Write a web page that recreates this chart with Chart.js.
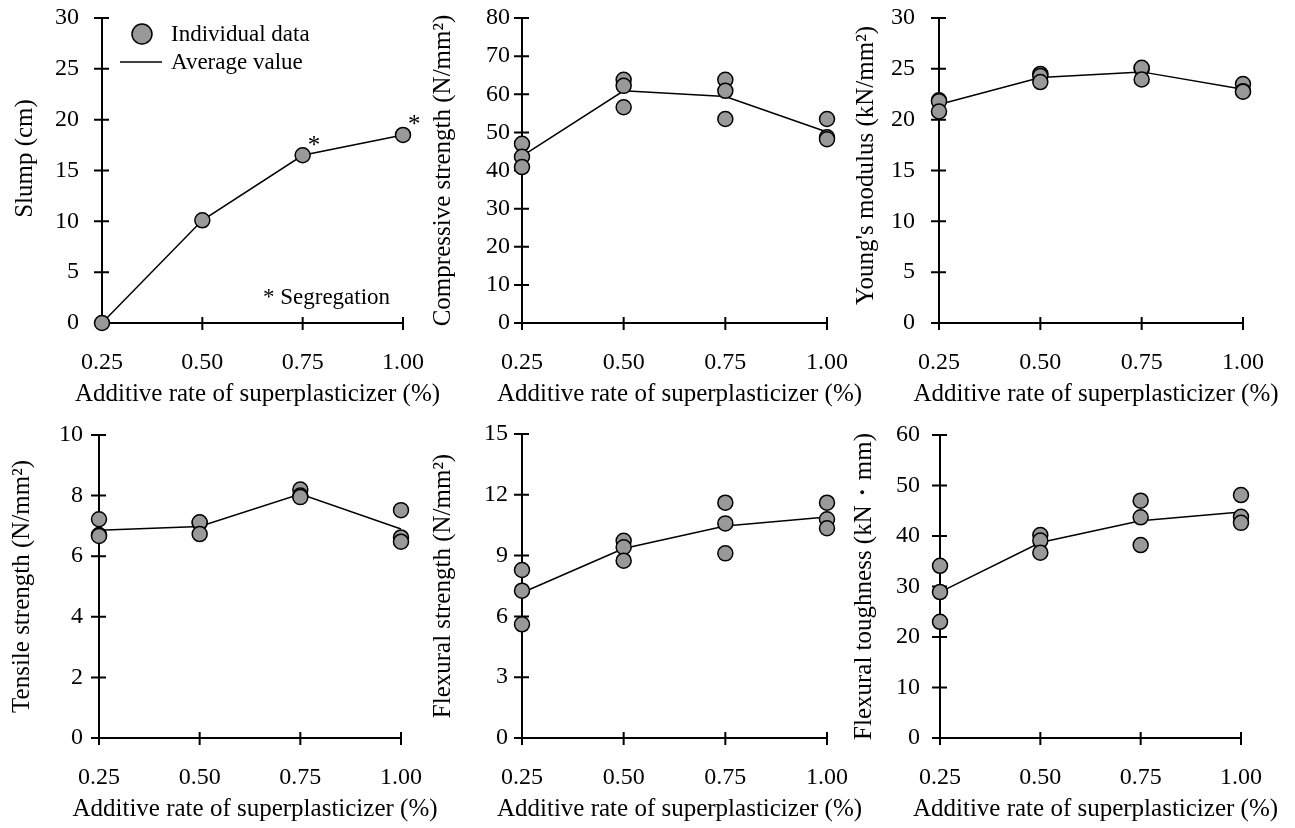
<!DOCTYPE html>
<html>
<head>
<meta charset="utf-8">
<title>Additive rate of superplasticizer</title>
<script src="https://cdn.jsdelivr.net/npm/chart.js@4.4.1/dist/chart.umd.min.js"></script>
<style>
  body { margin: 0; background: #fff; }
  #lienzo { position: relative; width: 1295px; height: 828px; overflow: hidden; background: #fff; }
  #lienzo canvas { position: absolute; }
</style>
</head>
<body>
<div id="lienzo"></div>
<script>
// Eje X comun: additive rate of superplasticizer (%)
const tasas = [0.25, 0.50, 0.75, 1.00];
const xTicks = [0.25, 0.50, 0.75, 1.00];
const tituloX = 'Additive rate of superplasticizer (%)';

// Slump (cm)
const slumpIndividual = [[0], [10.1], [16.5], [18.5]];
const slumpPromedio = [0, 10.1, 16.5, 18.5];
const slumpTicks = [0, 5, 10, 15, 20, 25, 30];
const segregacionX = [0.75, 1.00]; // puntos marcados con *

// Compressive strength (N/mm2)
const compIndividual = [[47.0, 43.6, 40.9], [63.8, 62.2, 56.6], [63.8, 60.9, 53.5], [53.5, 48.7, 48.2]];
const compPromedio = [43.8, 60.9, 59.4, 50.1];
const compTicks = [0, 10, 20, 30, 40, 50, 60, 70, 80];

// Young's modulus (kN/mm2)
const youngIndividual = [[21.9, 21.8, 20.8], [24.5, 24.3, 23.7], [25.0, 25.1, 23.95], [23.5, 22.8, 22.75]];
const youngPromedio = [21.5, 24.15, 24.7, 23.0];
const youngTicks = [0, 5, 10, 15, 20, 25, 30];

// Tensile strength (N/mm2)
const tensileIndividual = [[7.22, 6.7, 6.67], [7.1, 7.12, 6.73], [8.2, 8.0, 7.95], [7.52, 6.62, 6.48]];
const tensilePromedio = [6.86, 6.98, 8.05, 6.9];
const tensileTicks = [0, 2, 4, 6, 8, 10];

// Flexural strength (N/mm2)
const flexIndividual = [[8.29, 7.27, 5.61], [9.73, 9.41, 8.75], [11.61, 10.59, 9.11], [11.61, 10.79, 10.35]];
const flexPromedio = [7.17, 9.35, 10.46, 10.9];
const flexTicks = [0, 3, 6, 9, 12, 15];

// Flexural toughness (kN・mm)
const toughIndividual = [[34.1, 28.9, 23.0], [40.2, 39.1, 36.7], [47.0, 43.7, 38.2], [48.1, 43.8, 42.6]];
const toughPromedio = [28.9, 38.7, 43.0, 44.75];
const toughTicks = [0, 10, 20, 30, 40, 50, 60];

// Posicion de cada area de grafico (px) y separaciones de etiquetas
const posiciones = [
  { L: 102, T: 18,  R: 403,  B: 323, padTicks: 23, sepTitulo: 77, despTitulo: -12 },
  { L: 522, T: 18,  R: 827,  B: 323, padTicks: 12, sepTitulo: 79, despTitulo: 0 },
  { L: 939, T: 18,  R: 1243, B: 323, padTicks: 24, sepTitulo: 73, despTitulo: -5 },
  { L: 99,  T: 435, R: 401,  B: 738, padTicks: 16, sepTitulo: 77, despTitulo: 0 },
  { L: 522, T: 434, R: 827,  B: 738, padTicks: 14, sepTitulo: 79, despTitulo: 0 },
  { L: 940, T: 435, R: 1241, B: 738, padTicks: 20, sepTitulo: 76, despTitulo: 0 }
];

const EJE_Y = 100;      // ancho reservado para el eje Y
const EJE_X = 90;       // alto reservado para el eje X
const MARGEN_SUP = 20;
const MARGEN_DER = 45;
const GRIS = '#999999';
const FUENTE_TICKS = 24;
const FUENTE_TITULO = 25;
const FUENTE_NOTAS = 23;
const SERIF = '"Liberation Serif", "Times New Roman", serif';

Chart.defaults.font.family = SERIF;
Chart.defaults.color = '#000';

// Ejes con marcas que cruzan la linea (dibujados debajo de los puntos)
const marcasEjes = {
  id: 'marcasEjes',
  beforeDatasetsDraw(chart) {
    const { ctx, scales: { x, y } } = chart;
    const x0 = x.getPixelForValue(x.min);
    const x1 = x.getPixelForValue(x.max);
    const y0 = y.getPixelForValue(0);
    const y1 = y.getPixelForValue(y.max);
    ctx.save();
    ctx.strokeStyle = '#000';
    ctx.lineWidth = 2;
    ctx.beginPath();
    ctx.moveTo(x0, y1);
    ctx.lineTo(x0, y0);
    ctx.moveTo(x0, y0);
    ctx.lineTo(x1, y0);
    y.ticks.forEach(t => {
      const py = y.getPixelForValue(t.value);
      ctx.moveTo(x0 - 8, py);
      ctx.lineTo(x0 + 7, py);
    });
    x.ticks.forEach(t => {
      const px = x.getPixelForValue(t.value);
      ctx.moveTo(px, y0 - 6);
      ctx.lineTo(px, y0 + 7);
    });
    ctx.stroke();
    ctx.restore();
  }
};

// Titulos de los ejes (sin el maxWidth de Chart.js, que los comprime)
function crearTitulos(textoY, pos) {
  return {
    id: 'titulosEjes',
    afterDraw(chart) {
      const { ctx, chartArea: a } = chart;
      ctx.save();
      ctx.font = FUENTE_TITULO + 'px ' + SERIF;
      ctx.fillStyle = '#000';
      ctx.textAlign = 'center';
      ctx.textBaseline = 'middle';
      ctx.fillText(tituloX, (a.left + a.right) / 2 + 5, a.bottom + 71);
      ctx.translate(a.left - pos.sepTitulo, (a.top + a.bottom) / 2 + pos.despTitulo);
      ctx.rotate(-Math.PI / 2);
      ctx.fillText(textoY, 0, 0);
      ctx.restore();
    }
  };
}

// Leyenda, asteriscos y nota "* Segregation" del grafico de slump
const notasSlump = {
  id: 'notasSlump',
  afterDraw(chart) {
    const { ctx, chartArea: a, scales: { x, y } } = chart;
    ctx.save();
    ctx.font = FUENTE_NOTAS + 'px ' + SERIF;
    ctx.fillStyle = '#000';
    ctx.textBaseline = 'middle';
    ctx.textAlign = 'left';

    // leyenda
    ctx.beginPath();
    ctx.arc(a.left + 40, a.top + 16, 10, 0, Math.PI * 2);
    ctx.fillStyle = GRIS;
    ctx.fill();
    ctx.lineWidth = 1.5;
    ctx.strokeStyle = '#000';
    ctx.stroke();
    ctx.fillStyle = '#000';
    ctx.fillText('Individual data', a.left + 69, a.top + 17);
    ctx.beginPath();
    ctx.moveTo(a.left + 18, a.top + 44);
    ctx.lineTo(a.left + 60, a.top + 44);
    ctx.stroke();
    ctx.fillText('Average value', a.left + 69, a.top + 45);

    // asteriscos de segregacion
    ctx.font = (FUENTE_NOTAS + 2) + 'px ' + SERIF;
    segregacionX.forEach(v => {
      const i = tasas.indexOf(v);
      const px = x.getPixelForValue(v);
      const py = y.getPixelForValue(slumpPromedio[i]);
      ctx.fillText('*', px + 5, py - 9);
    });
    ctx.font = FUENTE_NOTAS + 'px ' + SERIF;
    ctx.fillText('* Segregation', a.left + 161, a.bottom - 25);
    ctx.restore();
  }
};

function crearPanel(panel, pos) {
  const ancho = pos.R - pos.L + EJE_Y + MARGEN_DER;
  const alto = pos.B - pos.T + MARGEN_SUP + EJE_X;
  const canvas = document.createElement('canvas');
  canvas.width = ancho;
  canvas.height = alto;
  canvas.style.width = ancho + 'px';
  canvas.style.height = alto + 'px';
  canvas.style.left = (pos.L - EJE_Y) + 'px';
  canvas.style.top = (pos.T - MARGEN_SUP) + 'px';
  document.getElementById('lienzo').appendChild(canvas);

  const puntos = [];
  panel.individual.forEach((grupo, i) => {
    grupo.forEach(v => puntos.push({ x: tasas[i], y: v }));
  });
  const linea = panel.promedio.map((v, i) => ({ x: tasas[i], y: v }));

  const extras = [marcasEjes, crearTitulos(panel.titulo, pos)];
  if (panel.notas) extras.push(panel.notas);

  return new Chart(canvas, {
    type: 'scatter',
    data: {
      datasets: [
        {
          label: 'Individual data',
          data: puntos,
          showLine: false,
          pointRadius: 7.5,
          pointBackgroundColor: GRIS,
          pointBorderColor: '#000',
          pointBorderWidth: 1.5,
          clip: false
        },
        {
          label: 'Average value',
          data: linea,
          showLine: true,
          borderColor: '#000',
          borderWidth: 1.5,
          pointRadius: 0,
          tension: 0,
          clip: false
        }
      ]
    },
    options: {
      responsive: false,
      animation: false,
      events: [],
      layout: { padding: { left: 0, top: MARGEN_SUP, right: MARGEN_DER, bottom: 0 } },
      plugins: { legend: { display: false }, tooltip: { enabled: false } },
      scales: {
        x: {
          type: 'linear',
          min: xTicks[0],
          max: xTicks[xTicks.length - 1],
          afterBuildTicks: s => { s.ticks = xTicks.map(v => ({ value: v })); },
          afterFit: s => { s.height = EJE_X; s.paddingLeft = 0; s.paddingRight = 0; },
          grid: { display: false, drawTicks: false },
          border: { display: false },
          ticks: {
            padding: 25,
            autoSkip: false,
            maxRotation: 0,
            font: { size: FUENTE_TICKS },
            callback: v => Number(v).toFixed(2)
          },
          title: { display: false }
        },
        y: {
          type: 'linear',
          min: 0,
          max: panel.yTicks[panel.yTicks.length - 1],
          afterBuildTicks: s => { s.ticks = panel.yTicks.map(v => ({ value: v })); },
          afterFit: s => { s.width = EJE_Y; s.paddingTop = 0; s.paddingBottom = 0; },
          grid: { display: false, drawTicks: false },
          border: { display: false },
          ticks: { padding: pos.padTicks, font: { size: FUENTE_TICKS } },
          title: { display: false }
        }
      }
    },
    plugins: extras
  });
}

const paneles = [
  { titulo: 'Slump (cm)', individual: slumpIndividual, promedio: slumpPromedio, yTicks: slumpTicks, notas: notasSlump },
  { titulo: 'Compressive strength (N/mm²)', individual: compIndividual, promedio: compPromedio, yTicks: compTicks },
  { titulo: "Young's modulus (kN/mm²)", individual: youngIndividual, promedio: youngPromedio, yTicks: youngTicks },
  { titulo: 'Tensile strength (N/mm²)', individual: tensileIndividual, promedio: tensilePromedio, yTicks: tensileTicks },
  { titulo: 'Flexural strength (N/mm²)', individual: flexIndividual, promedio: flexPromedio, yTicks: flexTicks },
  { titulo: 'Flexural toughness (kN\u30FBmm)', individual: toughIndividual, promedio: toughPromedio, yTicks: toughTicks }
];

paneles.forEach((p, i) => crearPanel(p, posiciones[i]));
</script>
</body>
</html>
